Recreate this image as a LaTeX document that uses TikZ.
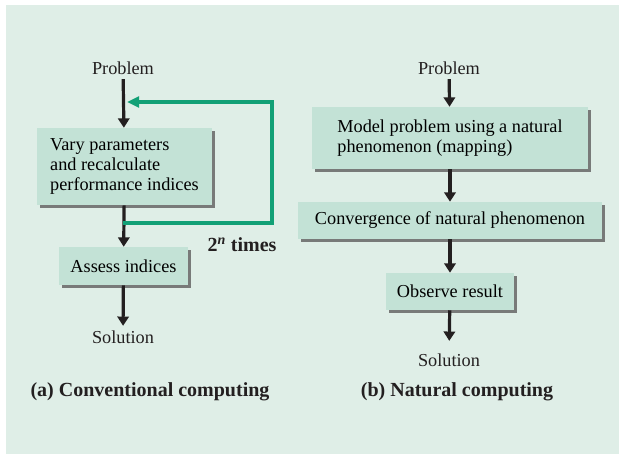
\documentclass[tikz,border=0pt]{standalone}
\usepackage{fontspec}
\setmainfont{Liberation Serif}
\usepackage{xcolor}
\usepackage{tikz}
\usetikzlibrary{arrows.meta,shadows}

\definecolor{panelbg}{RGB}{223,238,231}
\definecolor{boxfill}{RGB}{195,226,214}
\definecolor{loopgreen}{RGB}{18,160,118}
\definecolor{inkblack}{RGB}{35,31,32}

\tikzset{
  flowbox/.style={draw=none, fill=boxfill, inner ysep=0pt,
    font=\fontsize{13.7}{15}\selectfont,
    drop shadow={shadow xshift=2.2pt, shadow yshift=-2.2pt, fill=black!60, opacity=.85}},
  endlabel/.style={font=\fontsize{13.7}{15}\selectfont, text=inkblack},
  flow/.style={-{Triangle[width=8.5pt,length=7pt]}, line width=2.4pt, inkblack},
  caption/.style={font=\fontsize{15}{17}\selectfont\bfseries, text=inkblack}
}

\begin{document}
\begin{tikzpicture}[x=0.75pt, y=-0.75pt]
    \useasboundingbox (0,0) rectangle (619,454);
    \fill[panelbg] (6,5) rectangle (619,454);

    % (a) conventional
    \node[endlabel] (probA) at (123,68) {Problem};
    \node[flowbox, align=left, minimum width=131.25pt,
      minimum height=57.75pt] (vary) at (124.5,166.5)
      {Vary parameters\\and recalculate\\performance indices};
    \node[flowbox, minimum width=96.75pt, minimum height=28.5pt] (assess) at (123.5,266)
      {Assess indices};
    \node[endlabel] (solA) at (123,337) {Solution};
    \node[caption] (capA) at (150,392) {(a) Conventional computing};
    \node[caption] (times) at (242,245) {2\textsuperscript{\itshape n} times};

    \coordinate (jn) at (123,223);
    \coordinate (back) at (127,102);
    \draw[flow] (probA) -- (vary);
    \draw[flow] (vary) -- (assess);
    \draw[flow] (assess) -- (solA);
    \draw[line width=2.6pt, loopgreen, -{Triangle[width=8pt,length=9pt]}]
      (jn) -| (272,102) -- (back);

    % (b) natural
    \node[endlabel] (probB) at (449,68) {Problem};
    \node[flowbox, align=left, minimum width=207pt,
      minimum height=46.5pt] (model) at (450,138)
      {Model problem using a natural\\phenomenon (mapping)};
    \node[flowbox, minimum width=228pt, minimum height=27.75pt] (conv) at (450,220.5)
      {Convergence of natural phenomenon};
    \node[flowbox, minimum width=96pt, minimum height=27.75pt] (observe) at (450,291.5)
      {Observe result};
    \node[endlabel] (solB) at (449,360) {Solution};
    \node[caption] (capB) at (457,392) {(b) Natural computing};

    \draw[flow] (probB) -- (model);
    \draw[flow] (model) -- (conv);
    \draw[flow] (conv) -- (observe);
    \draw[flow, shorten >=6pt] (observe) -- (solB);
\end{tikzpicture}
\end{document}
